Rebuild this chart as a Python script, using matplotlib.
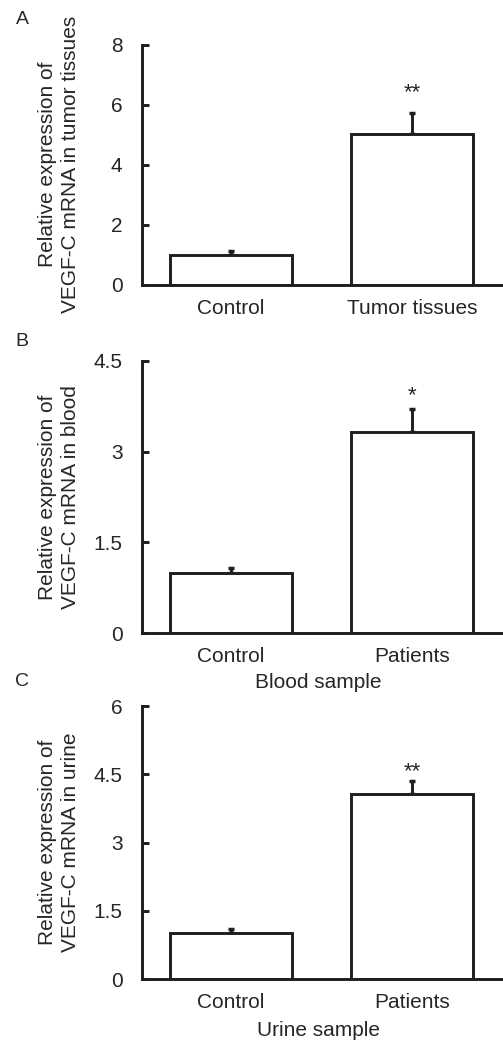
import matplotlib
matplotlib.use("Agg")
import matplotlib.pyplot as plt

# ---- data ----
panel_letters = ["A", "B", "C"]
categories_A = ["Control", "Tumor tissues"]
categories_B = ["Control", "Patients"]
categories_C = ["Control", "Patients"]
values_A = [1.0, 5.01]
values_B = [1.0, 3.32]
values_C = [1.01, 4.06]
errors_A = [0.12, 0.72]
errors_B = [0.08, 0.38]
errors_C = [0.09, 0.29]
stars_A = ["", "**"]
stars_B = ["", "*"]
stars_C = ["", "**"]
yticks_A = [0, 2, 4, 6, 8]
yticks_B = [0, 1.5, 3, 4.5]
yticks_C = [0, 1.5, 3, 4.5, 6]
ytick_labels_A = ["0", "2", "4", "6", "8"]
ytick_labels_B = ["0", "1.5", "3", "4.5"]
ytick_labels_C = ["0", "1.5", "3", "4.5", "6"]
ylabels = ["Relative expression of\nVEGF-C mRNA in tumor tissues",
           "Relative expression of\nVEGF-C mRNA in blood",
           "Relative expression of\nVEGF-C mRNA in urine"]
xlabels = ["", "Blood sample", "Urine sample"]

plt.rcParams['font.family'] = ['Liberation Sans', 'DejaVu Sans']
TXT = '#262626'
LINE = '#1e1e1e'

W, H = 503, 1040
fig = plt.figure(figsize=(W / 100, H / 100), dpi=100)

# axes rectangles in pixels: (top, bottom)
rects = [(44.5, 285.0), (360.7, 633.3), (706.0, 979.3)]
left_px, right_px = 142, 503
star_offsets = [14.5, 10, 6.5]

panels = [
    (categories_A, values_A, errors_A, stars_A, yticks_A, ytick_labels_A),
    (categories_B, values_B, errors_B, stars_B, yticks_B, ytick_labels_B),
    (categories_C, values_C, errors_C, stars_C, yticks_C, ytick_labels_C),
]
label_y = [20, 342, 682]
xlabel_y = [None, 682, 1030]

for i, (cats, vals, errs, stars, yt, ytl) in enumerate(panels):
    top, bot = rects[i]
    ax = fig.add_axes([left_px / W, 1 - bot / H, (right_px - left_px) / W, (bot - top) / H])
    x = list(range(len(cats)))
    ax.bar(x, vals, width=0.672, color='white', edgecolor=LINE, linewidth=2.1, zorder=2)
    ax.errorbar(x, vals, yerr=[[0] * len(errs), errs], fmt='none', ecolor=LINE,
                elinewidth=2.1, capsize=2.5, capthick=2.5, zorder=1)
    for xi, v, e, s in zip(x, vals, errs, stars):
        if s:
            ax.annotate(s, (xi, v + e), xytext=(0, star_offsets[i]), textcoords='offset points',
                        ha='center', va='center', fontsize=16, color=TXT)
    ax.set_xlim(-0.49, 1.5)
    ax.set_ylim(yt[0], yt[-1])
    ax.set_yticks(yt)
    ax.set_yticklabels(ytl)
    ax.set_xticks(x)
    ax.set_xticklabels(cats)
    for sp in ['top', 'right']:
        ax.spines[sp].set_visible(False)
    for sp in ['left', 'bottom']:
        ax.spines[sp].set_linewidth(2.1)
        ax.spines[sp].set_color(LINE)
    ax.spines['left'].set_capstyle('projecting')
    ax.tick_params(axis='y', direction='in', length=5, width=2.1, color=LINE,
                   labelsize=15, labelcolor=TXT, pad=14)
    ax.tick_params(axis='x', length=0, labelsize=15, labelcolor=TXT, pad=10)
    ax.patch.set_visible(False)
    for sp in ax.spines.values():
        sp.set_clip_on(False)
    # y label
    fig.text(59 / W, 1 - ((top + bot) / 2) / H, ylabels[i], rotation=90, ha='center', va='center',
             fontsize=15, color=TXT, linespacing=1.25, multialignment='center')
    fig.text(22 / W, 1 - label_y[i] / H, panel_letters[i], ha='center', va='center',
             fontsize=14, color=TXT)
    if xlabels[i]:
        fig.text(((left_px + right_px) / 2 - 4) / W, 1 - xlabel_y[i] / H, xlabels[i],
                 ha='center', va='center', fontsize=15, color=TXT)

fig.savefig("out.png", dpi=100)
